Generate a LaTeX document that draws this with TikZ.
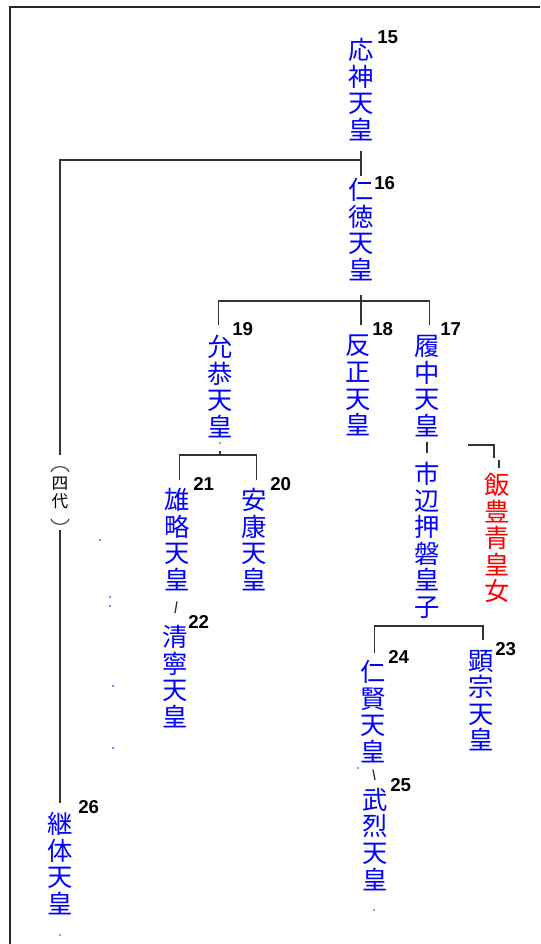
\documentclass[tikz,border=0pt]{standalone}
\usepackage{fontspec}
\newfontfamily\jpfont{Noto Sans CJK JP}
\newfontfamily\numfont{Liberation Sans}
\usetikzlibrary{positioning}
\lineskiplimit=-20pt

\tikzset{
  tenno/.style={anchor=north, align=center, inner sep=0pt, text=blue,
    font=\jpfont\fontsize{19}{19.9}\selectfont},
  kojo/.style={tenno, text=red},
  daisu/.style={anchor=north, align=center, inner sep=0pt, text=black,
    font=\jpfont\fontsize{12.5}{13.5}\selectfont},
  bango/.style={anchor=north west, inner sep=0pt,
    font=\numfont\bfseries\fontsize{14}{14}\selectfont},
  kei/.style={draw=black!80, line width=1pt},
  kakko/.style={draw=black!80, line width=0.8pt}
}

\begin{document}
\begin{tikzpicture}[x=0.75pt, y=-0.75pt]
\useasboundingbox (0,0) rectangle (540,944);
\draw [black!85, line width=1.5pt] (10,944) -- (10,7.5) -- (540,7.5);

% emperors
\node [tenno] (ojin)     at (361,38)  {応\\神\\天\\皇};
\node [tenno] (nintoku)  at (361,178) {仁\\徳\\天\\皇};
\node [tenno] (ingyo)    at (220,335) {允\\恭\\天\\皇};
\node [tenno] (hanzei)   at (358,335) {反\\正\\天\\皇};
\node [tenno] (richu)    at (427,335) {履\\中\\天\\皇};
\node [tenno] (ichinobe) at (427,462) {市\\辺\\押\\磐\\皇\\子};
\node [kojo]  (iitoyo)   at (497,473) {飯\\豊\\青\\皇\\女};
\node [tenno] (yuryaku)  at (177,488) {雄\\略\\天\\皇};
\node [tenno] (anko)     at (254,488) {安\\康\\天\\皇};
\node [tenno] (seinei)   at (175,625) {清\\寧\\天\\皇};
\node [tenno] (ninken)   at (373,660) {仁\\賢\\天\\皇};
\node [tenno] (kenzo)    at (481,650) {顕\\宗\\天\\皇};
\node [tenno] (buretsu)  at (375,788) {武\\烈\\天\\皇};
\node [tenno] (keitai)   at (60,812)  {継\\体\\天\\皇};
\node [daisu] (yondai)   at (60,477)  {四\\代};
% vertical brackets round it
\draw [kakko] (51,472) .. controls (53,465) and (67,465) .. (69,472);
\draw [kakko] (51,519) .. controls (53,526) and (67,526) .. (69,519);

% numbers
\node [bango] (no15) at (377,30)  {15};
\node [bango] (no16) at (374,176) {16};
\node [bango] (no19) at (232,322) {19};
\node [bango] (no18) at (372,322) {18};
\node [bango] (no17) at (440,322) {17};
\node [bango] (no21) at (193,477) {21};
\node [bango] (no20) at (270,477) {20};
\node [bango] (no22) at (188,615) {22};
\node [bango] (no24) at (388,650) {24};
\node [bango] (no23) at (495,642) {23};
\node [bango] (no25) at (390,778) {25};
\node [bango] (no26) at (78,800)  {26};

% lines
\coordinate (k15) at (361,160);
\coordinate (k16) at (361,301);
\coordinate (k19) at (220,455);
\coordinate (k1x) at (428,626);
\coordinate (kiitoyo) at (468,445);

\draw [kei] ([yshift=-7.5pt]ojin.south) -- ([yshift=1.5pt]nintoku.north);
\draw [kei] (k15) -| ([yshift=16.5pt]yondai.north);
\draw [kei] ([yshift=-15.75pt]yondai.south) -- ([yshift=7pt]keitai.north);
\draw [kei] ([yshift=-11pt]nintoku.south) -- (k16);
\draw [kei] (k16) -| ([xshift=-1pt,yshift=7.5pt]ingyo.north);
\draw [kei] (k16) -| ([xshift=2pt,yshift=7.5pt]richu.north);
\draw [kei] (k16) -- ([yshift=7.5pt]k16 |- hanzei.north);
\draw [kei] ([yshift=-9.75pt]ingyo.south) -- (k19);
\draw [kei] (k19) -| ([xshift=2pt,yshift=6pt]yuryaku.north);
\draw [kei] (k19) -| ([xshift=2pt,yshift=6pt]anko.north);
\draw [kei] ([yshift=-8pt]yuryaku.south) -- ([yshift=9pt]seinei.north);
\draw [kei] ([yshift=-4pt]richu.south) -- ([yshift=6.5pt]ichinobe.north);
\draw [kei] ([yshift=-5pt]ichinobe.south) -- (k1x);
\draw [kei] (k1x) -| ([xshift=1pt,yshift=5pt]ninken.north);
\draw [kei] (k1x) -| ([xshift=1.5pt,yshift=7.5pt]kenzo.north);
\draw [kei] (kiitoyo) -| ([xshift=-2.25pt,yshift=11pt]iitoyo.north);
\draw [kei] ([xshift=1.5pt,yshift=9.75pt]iitoyo.north) -- ([xshift=1.5pt,yshift=3.75pt]iitoyo.north);
\draw [kei] ([yshift=-5pt]ninken.south) -- ([yshift=6pt]buretsu.north);

% stray dots
\fill [black!70] (220,443) circle (0.6pt) (60,935) circle (0.6pt)
  (374,910) circle (0.6pt) (358,768) circle (0.6pt);
\fill [blue] (100,540) circle (0.6pt) (110,597) circle (0.6pt) (110,606) circle (0.6pt)
  (113,686) circle (0.6pt) (113,748) circle (0.6pt);
\end{tikzpicture}
\end{document}
